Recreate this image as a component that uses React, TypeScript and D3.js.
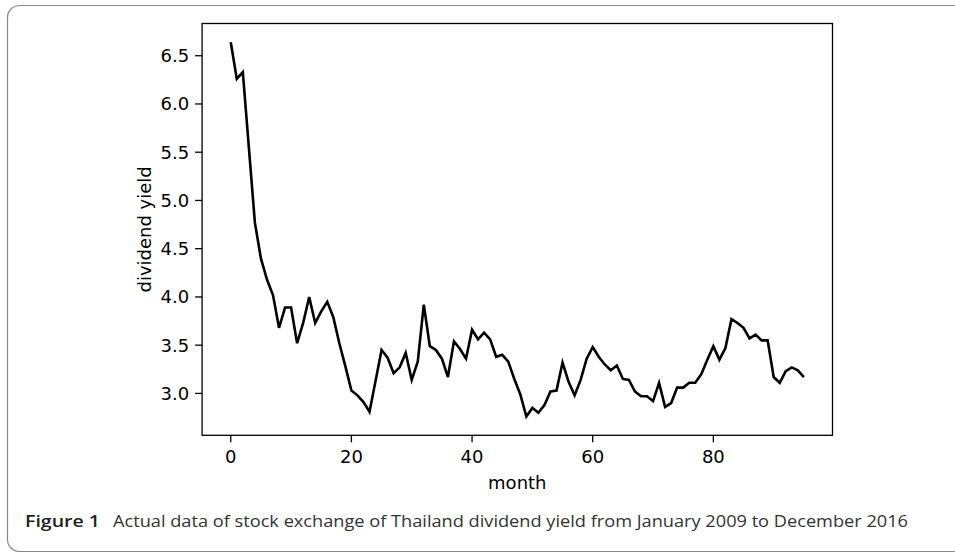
import React from "react";
import * as d3 from "d3";

const dividendYield: number[] = [
  6.64, 6.26, 6.33, 5.55, 4.77, 4.40, 4.18, 4.02, 3.68, 3.89,
  3.89, 3.52, 3.73, 4.00, 3.73, 3.85, 3.95, 3.79, 3.52, 3.28,
  3.03, 2.98, 2.91, 2.81, 3.13, 3.45, 3.37, 3.21, 3.27, 3.42,
  3.14, 3.33, 3.92, 3.49, 3.45, 3.36, 3.17, 3.54, 3.46, 3.36,
  3.66, 3.56, 3.63, 3.56, 3.38, 3.40, 3.33, 3.15, 2.99, 2.76,
  2.85, 2.80, 2.88, 3.02, 3.03, 3.32, 3.12, 2.98, 3.14, 3.36,
  3.48, 3.38, 3.30, 3.24, 3.29, 3.15, 3.14, 3.02, 2.97, 2.97,
  2.92, 3.11, 2.86, 2.90, 3.06, 3.06, 3.11, 3.11, 3.20, 3.35,
  3.49, 3.35, 3.47, 3.77, 3.73, 3.68, 3.57, 3.61, 3.55, 3.55,
  3.17, 3.11, 3.23, 3.27, 3.24, 3.17,
];
const months: number[] = dividendYield.map((_, i) => i);
const xTicks: number[] = [0, 20, 40, 60, 80];
const yTicks: number[] = [3.0, 3.5, 4.0, 4.5, 5.0, 5.5, 6.0, 6.5];
const xLabel = "month";
const yLabel = "dividend yield";
const captionBold = "Figure 1";
const captionText =
  "Actual data of stock exchange of Thailand dividend yield from January 2009 to December 2016";

const W = 955;
const H = 555;
const plot = { left: 202.1, right: 832.5, top: 23.5, bottom: 435.3 };

export default function App() {
  const xMin = d3.min(months)!;
  const xMax = d3.max(months)!;
  const xPad = (xMax - xMin) * 0.05;
  const yMin = d3.min(dividendYield)!;
  const yMax = d3.max(dividendYield)!;
  const yPad = (yMax - yMin) * 0.05;

  const x = d3.scaleLinear().domain([xMin - xPad, xMax + xPad]).range([plot.left, plot.right]);
  const y = d3.scaleLinear().domain([yMin - yPad, yMax + yPad]).range([plot.bottom, plot.top]);

  const line = d3
    .line<number>()
    .x((_, i) => x(months[i]))
    .y((d) => y(d));

  const tickLen = 7;
  const axisFont = "'DejaVu Sans', sans-serif";
  const fs = 18;

  return (
    <svg
      width={W}
      height={H}
      viewBox={`0 0 ${W} ${H}`}
      style={{ position: "absolute", left: 0, top: 0, display: "block", background: "#fff" }}
    >
      <rect x={0} y={0} width={W} height={H} fill="#fff" />
      {/* outer figure frame */}
      <rect
        x={7.5}
        y={5.5}
        width={W + 20}
        height={546}
        rx={12}
        ry={12}
        fill="none"
        stroke="#8a8a8a"
        strokeWidth={1.2}
      />

      {/* data line */}
      <path
        d={line(dividendYield) || ""}
        fill="none"
        stroke="#000"
        strokeWidth={2.6}
        strokeLinejoin="miter"
        strokeLinecap="butt"
      />

      {/* axes box */}
      <rect
        x={plot.left}
        y={plot.top}
        width={plot.right - plot.left}
        height={plot.bottom - plot.top}
        fill="none"
        stroke="#000"
        strokeWidth={1.3}
      />

      {/* x ticks */}
      {xTicks.map((t) => (
        <g key={`xt${t}`}>
          <line x1={x(t)} x2={x(t)} y1={plot.bottom} y2={plot.bottom + tickLen} stroke="#000" strokeWidth={1.3} />
          <text x={x(t)} y={463} textAnchor="middle" fontFamily={axisFont} fontSize={fs} fill="#000">
            {t}
          </text>
        </g>
      ))}

      {/* y ticks */}
      {yTicks.map((t) => (
        <g key={`yt${t}`}>
          <line x1={plot.left - tickLen} x2={plot.left} y1={y(t)} y2={y(t)} stroke="#000" strokeWidth={1.3} />
          <text
            x={plot.left - tickLen - 6}
            y={y(t)}
            dy="0.36em"
            textAnchor="end"
            fontFamily={axisFont}
            fontSize={fs}
            fill="#000"
          >
            {t.toFixed(1)}
          </text>
        </g>
      ))}

      {/* axis labels */}
      <text
        x={(plot.left + plot.right) / 2}
        y={489}
        textAnchor="middle"
        fontFamily={axisFont}
        fontSize={fs}
        fill="#000"
      >
        {xLabel}
      </text>
      <text
        transform={`translate(151, ${(plot.top + plot.bottom) / 2}) rotate(-90)`}
        textAnchor="middle"
        fontFamily={axisFont}
        fontSize={fs}
        fill="#000"
      >
        {yLabel}
      </text>

      {/* caption */}
      <text
        x={25}
        y={527}
        fontFamily="'Open Sans', 'Noto Sans', sans-serif"
        fontWeight={600}
        fontSize={16}
        fill="#231f20"
        textLength={75}
        lengthAdjust="spacingAndGlyphs"
      >
        {captionBold}
      </text>
      <text
        x={113}
        y={527}
        fontFamily="'Open Sans', 'Noto Sans', sans-serif"
        fontSize={16}
        fill="#333"
        textLength={795}
        lengthAdjust="spacingAndGlyphs"
      >
        {captionText}
      </text>
    </svg>
  );
}
